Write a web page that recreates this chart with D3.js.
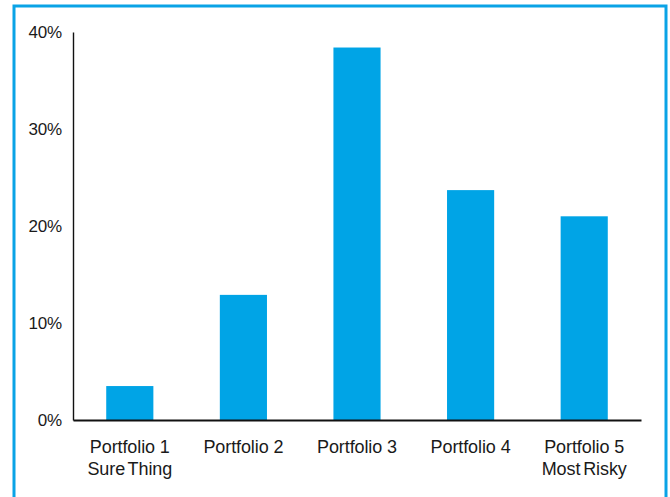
<!DOCTYPE html>
<html>
<head>
<meta charset="utf-8">
<script src="https://cdn.jsdelivr.net/npm/d3@7"></script>
<style>
  html, body { margin: 0; padding: 0; background: #fff; }
  svg { display: block; }
  text { font-family: "Liberation Sans", Arial, sans-serif; fill: #1a1a1a; }
</style>
</head>
<body>
<svg id="chart" width="670" height="497"></svg>
<script>
// Portfolio returns by risk level
const portfolios = ["Portfolio 1", "Portfolio 2", "Portfolio 3", "Portfolio 4", "Portfolio 5"];
const subtitles = ["Sure Thing", "", "", "", "Most Risky"];
const returns = [0.035, 0.129, 0.384, 0.237, 0.210];
const yTicks = [0, 0.1, 0.2, 0.3, 0.4];

const svg = d3.select("#chart");
const barColor = "#00A4E6";

// outer frame
svg.append("rect")
  .attr("x", 14).attr("y", 6)
  .attr("width", 652).attr("height", 500)
  .attr("fill", "none")
  .attr("stroke", "#0AA3E6")
  .attr("stroke-width", 3);

const plot = { left: 73, right: 641, top: 32, bottom: 420 };

const x = d3.scaleBand()
  .domain(portfolios)
  .range([plot.left, plot.right])
  .paddingInner(0.585)
  .paddingOuter(0.2925);

const y = d3.scaleLinear()
  .domain([0, 0.4])
  .range([plot.bottom, plot.top]);

// bars
svg.append("g").selectAll("rect")
  .data(portfolios)
  .join("rect")
  .attr("x", d => x(d))
  .attr("width", x.bandwidth())
  .attr("y", (d, i) => y(returns[i]))
  .attr("height", (d, i) => y(0) - y(returns[i]))
  .attr("fill", barColor);

// y axis
const yAxis = svg.append("g")
  .attr("transform", `translate(${plot.left},0)`)
  .call(d3.axisLeft(y).tickValues(yTicks).tickFormat(d3.format(".0%")).tickSize(0).tickPadding(11));
yAxis.select(".domain").attr("stroke", "#111").attr("stroke-width", 1.4);
yAxis.selectAll("text")
  .attr("font-size", 17)
  .attr("letter-spacing", "-0.2px")
  .attr("fill", "#1a1a1a")
  .attr("font-family", "'Liberation Sans', Arial, sans-serif");

// x axis
const xAxis = svg.append("g")
  .attr("transform", `translate(0,${plot.bottom})`)
  .call(d3.axisBottom(x).tickSize(0).tickFormat(() => ""));
xAxis.select(".domain").attr("stroke", "#111").attr("stroke-width", 2);

// category labels (two lines)
const labels = svg.append("g").selectAll("text")
  .data(portfolios)
  .join("text")
  .attr("text-anchor", "middle")
  .attr("font-size", 18)
  .attr("letter-spacing", "-0.1px")
  .attr("x", d => x(d) + x.bandwidth() / 2)
  .attr("y", 453);
labels.append("tspan").text(d => d);
labels.append("tspan")
  .attr("x", d => x(d) + x.bandwidth() / 2)
  .attr("dy", 22)
  .attr("word-spacing", "-2px")
  .text((d, i) => subtitles[i]);
</script>
</body>
</html>
